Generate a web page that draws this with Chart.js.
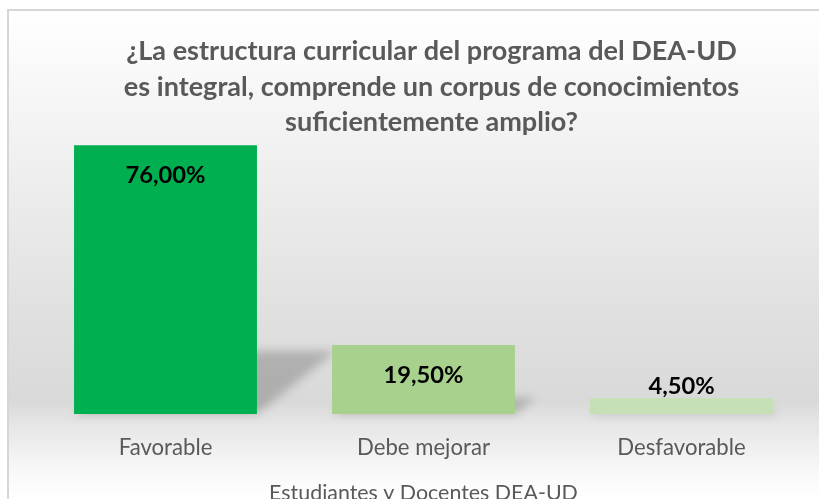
<!DOCTYPE html>
<html>
<head>
<meta charset="utf-8">
<script src="https://cdn.jsdelivr.net/npm/chart.js@4.4.1/dist/chart.umd.min.js"></script>
<style>
  html, body { margin: 0; padding: 0; background: #ffffff; overflow: hidden; width: 819px; height: 499px; }
  canvas { display: block; }
</style>
</head>
<body>
<canvas id="c" width="819" height="510"></canvas>
<script>
// ---- data ----
const categories = ["Favorable", "Debe mejorar", "Desfavorable"];
const values = [0.76, 0.195, 0.045];
const barColors = ["#00B050", "#A9D18E", "#C5E0B4"];
const titleLines = [
  "¿La estructura curricular del programa del DEA-UD",
  "es integral, comprende un corpus de conocimientos",
  "suficientemente amplio?"
];
const axisTitle = "Estudiantes y Docentes DEA-UD";

const FAMILY = "Lato, 'Open Sans', sans-serif";
const measureCtx = document.createElement('canvas').getContext('2d');
function fitSize(text, weight, target) {
  measureCtx.font = weight + " 100px " + FAMILY;
  return 100 * target / measureCtx.measureText(text).width;
}
const titleSize = fitSize(titleLines[0], "bold", 611);
const labelSize = fitSize("76,00%", "bold", 80);
const tickSize = fitSize("Debe mejorar", "normal", 133);
const axisTitleSize = fitSize(axisTitle, "normal", 309);

function fmt(v) { return (v * 100).toFixed(2).replace('.', ',') + '%'; }

const bgPlugin = {
  id: 'bg',
  beforeDraw(chart) {
    const ctx = chart.ctx;
    const W = chart.width, H = chart.height;
    ctx.save();
    ctx.fillStyle = '#ffffff';
    ctx.fillRect(0, 0, W, H);
    const g = ctx.createLinearGradient(0, 10, 0, 499);
    g.addColorStop(0, '#ffffff');
    g.addColorStop(0.26, '#f2f2f2');
    g.addColorStop(0.6, '#e1e1e1');
    g.addColorStop(0.8, '#d9d9d9');
    g.addColorStop(0.84, '#e4e4e4');
    g.addColorStop(0.94, '#f8f8f8');
    g.addColorStop(1, '#ffffff');
    ctx.fillStyle = g;
    ctx.fillRect(8, 10, W, H);
    ctx.strokeStyle = '#d6d6d6';
    ctx.lineWidth = 2;
    ctx.strokeRect(8, 10, W + 10, H + 10);
    ctx.restore();
  },
  beforeDatasetsDraw(chart) {
    // perspective shadows derived from bar elements
    const ctx = chart.ctx;
    const meta = chart.getDatasetMeta(0);
    ctx.save();
    ctx.filter = 'blur(5px)';
    ctx.fillStyle = 'rgba(0,0,0,0.2)';
    meta.data.forEach(bar => {
      const p = bar.getProps(['x', 'y', 'base', 'width'], true);
      const h = (p.base - p.y) * 0.235;
      const l = p.x - p.width / 2, r = p.x + p.width / 2;
      const dx = h * 1.25;
      ctx.beginPath();
      ctx.moveTo(l, p.base);
      ctx.lineTo(r, p.base);
      ctx.lineTo(r + dx, p.base - h);
      ctx.lineTo(l + dx, p.base - h);
      ctx.closePath();
      ctx.fill();
    });
    ctx.restore();
  },
  afterDatasetsDraw(chart) {
    const ctx = chart.ctx;
    const meta = chart.getDatasetMeta(0);
    ctx.save();
    ctx.font = 'bold ' + labelSize + 'px ' + FAMILY;
    ctx.fillStyle = '#000000';
    ctx.textAlign = 'center';
    ctx.textBaseline = 'alphabetic';
    meta.data.forEach((bar, i) => {
      const p = bar.getProps(['x', 'y', 'base'], true);
      const ty = (p.base - p.y > 40) ? p.y + 37.5 : p.y - 4;
      ctx.fillText(fmt(values[i]), p.x, ty);
    });
    // title
    ctx.font = 'bold ' + titleSize + 'px ' + FAMILY;
    ctx.fillStyle = '#595959';
    const cx = 431.5;
    const baselines = [60, 95.5, 131];
    titleLines.forEach((t, i) => ctx.fillText(t, cx, baselines[i]));
    ctx.restore();
  }
};

new Chart(document.getElementById('c'), {
  type: 'bar',
  data: {
    labels: categories,
    datasets: [{
      data: values,
      backgroundColor: barColors,
      borderWidth: 0,
      categoryPercentage: 1,
      barPercentage: 0.709
    }]
  },
  options: {
    responsive: false,
    animation: false,
    devicePixelRatio: 1,
    layout: { padding: { left: 36.5, right: 8.5, top: 131, bottom: 3.6 } },
    plugins: { legend: { display: false }, tooltip: { enabled: false }, title: { display: false } },
    scales: {
      y: { display: false, min: 0, max: 0.8 },
      x: {
        grid: { display: false },
        border: { display: false },
        ticks: { color: '#595959', padding: 12, font: { family: FAMILY, size: tickSize } },
        title: {
          display: true, text: axisTitle, color: '#595959',
          font: { family: FAMILY, size: axisTitleSize },
          padding: { top: 8, bottom: 0 }
        }
      }
    }
  },
  plugins: [bgPlugin]
});
</script>
</body>
</html>
